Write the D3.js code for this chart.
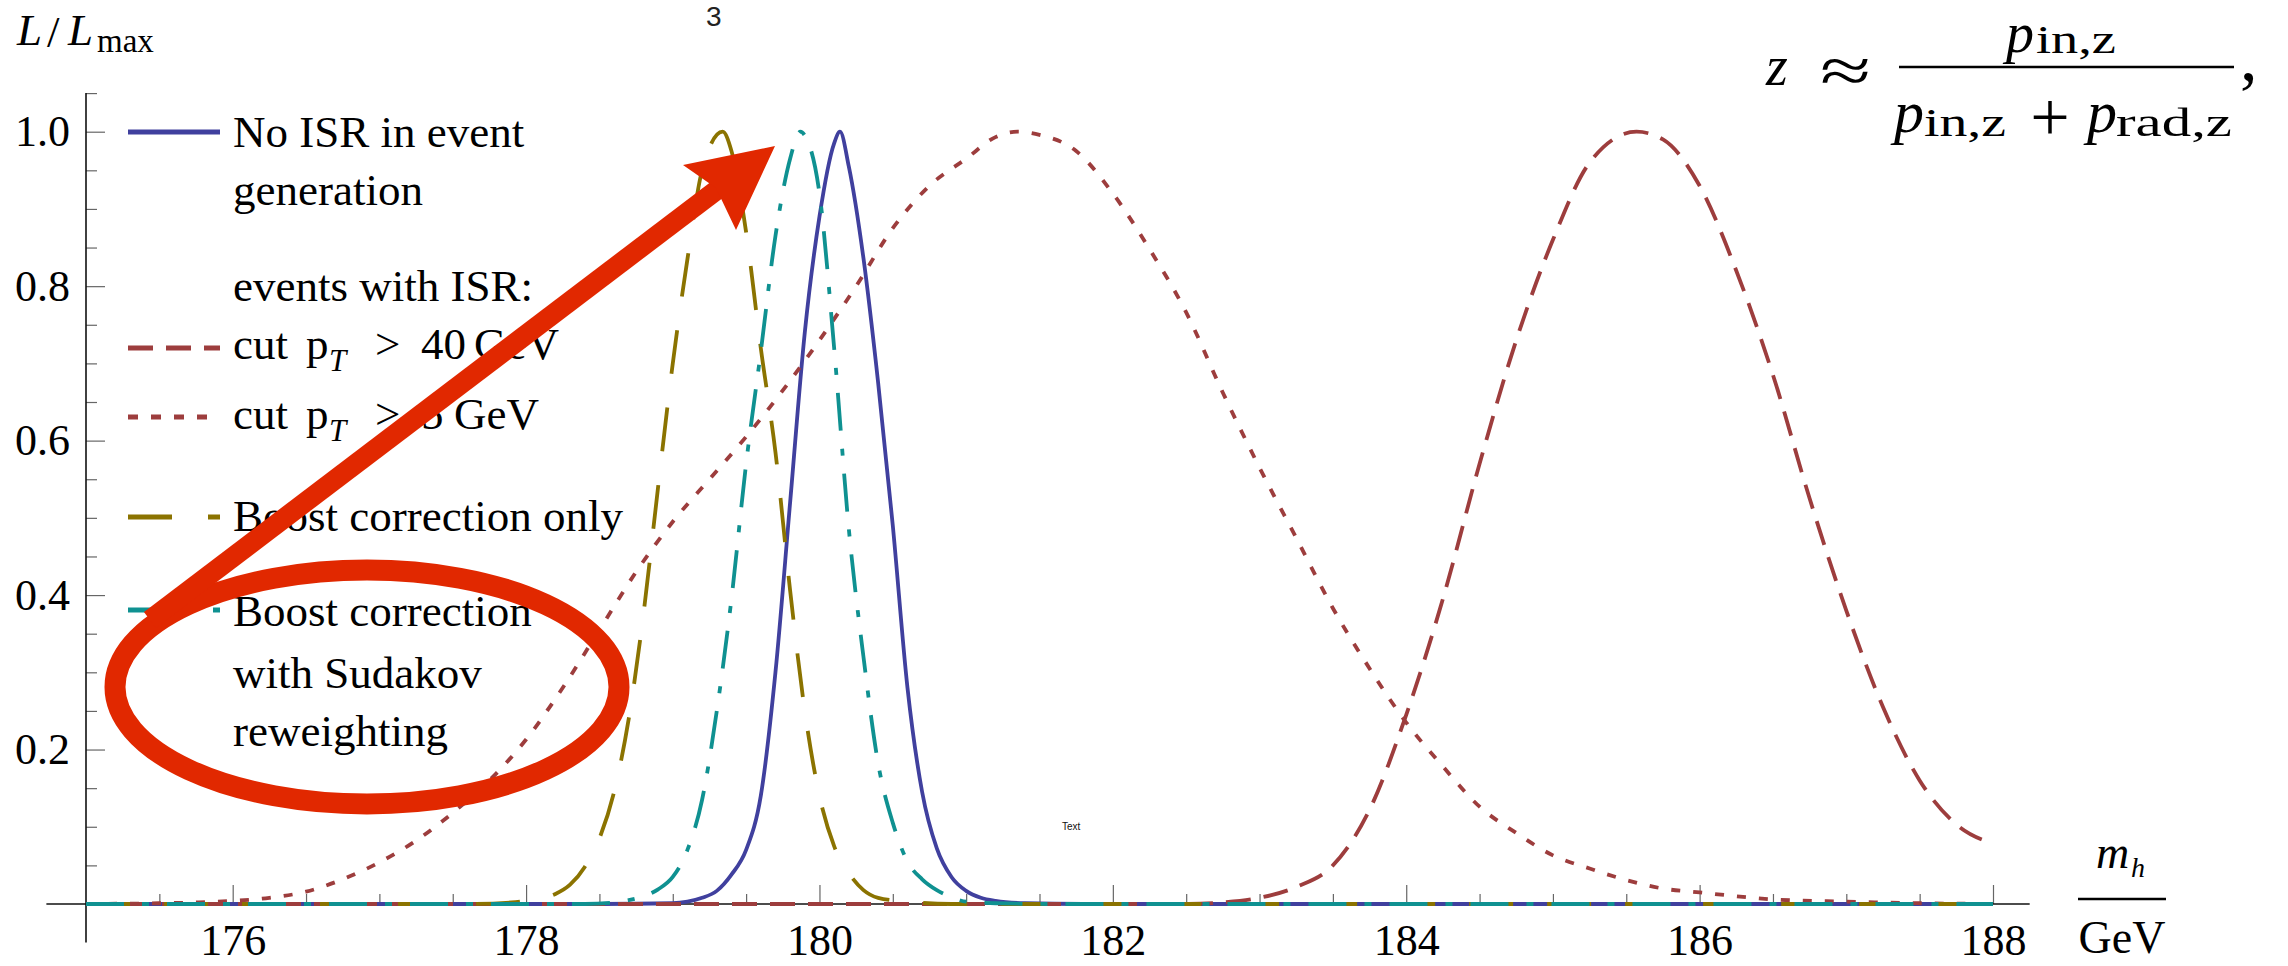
<!DOCTYPE html>
<html><head><meta charset="utf-8">
<script src="https://cdn.jsdelivr.net/npm/d3@7/dist/d3.min.js"></script>
<style>body{margin:0;background:#fff}</style>
</head><body>
<svg id="chart" width="2288" height="966" xmlns="http://www.w3.org/2000/svg"></svg>
<script>
// ---------- data ----------
const massNoIsr = [175, 178.5, 179.0, 179.1, 179.2, 179.3, 179.4, 179.5, 179.6, 179.7, 179.8, 179.9, 180.0, 180.1, 180.14, 180.2, 180.3, 180.4, 180.5, 180.6, 180.7, 180.8, 180.9, 181.0, 181.1, 181.2, 181.4, 181.8, 188];
const likeNoIsr = [0, 0, 0.001, 0.003, 0.008, 0.017, 0.038, 0.07, 0.14, 0.30, 0.52, 0.74, 0.89, 0.985, 1.0, 0.955, 0.836, 0.675, 0.49, 0.28, 0.145, 0.072, 0.035, 0.017, 0.008, 0.004, 0.001, 0, 0];

const massCut40 = [175, 182.5, 182.75, 183, 183.25, 183.5, 183.75, 184, 184.25, 184.5, 184.75, 185, 185.25, 185.57, 185.75, 186, 186.25, 186.5, 186.75, 187, 187.25, 187.5, 187.75, 188];
const likeCut40 = [0, 0, 0.002, 0.008, 0.022, 0.05, 0.122, 0.245, 0.395, 0.57, 0.73, 0.86, 0.96, 1.0, 0.99, 0.93, 0.82, 0.685, 0.525, 0.38, 0.255, 0.16, 0.103, 0.078];

const massCut5 = [175, 175.5, 175.75, 176, 176.25, 176.5, 176.75, 177, 177.25, 177.5, 177.75, 178, 178.25, 178.5, 178.75, 179, 179.25, 179.5, 179.75, 180, 180.25, 180.5, 180.75, 181, 181.2, 181.35, 181.5, 181.75, 182, 182.25, 182.5, 182.75, 183, 183.25, 183.5, 183.75, 184, 184.25, 184.5, 184.75, 185, 185.25, 185.5, 185.75, 186, 186.5, 187, 187.5, 188];
const likeCut5 = [0, 0.001, 0.002, 0.004, 0.008, 0.016, 0.032, 0.054, 0.082, 0.118, 0.16, 0.213, 0.28, 0.355, 0.43, 0.495, 0.55, 0.605, 0.665, 0.73, 0.80, 0.875, 0.93, 0.965, 0.993, 1.0, 0.996, 0.975, 0.92, 0.848, 0.766, 0.662, 0.565, 0.474, 0.383, 0.305, 0.235, 0.178, 0.126, 0.092, 0.063, 0.046, 0.031, 0.02, 0.015, 0.006, 0.003, 0.001, 0];

const massBoost = [175, 177.6, 177.9, 178.0, 178.1, 178.2, 178.3, 178.4, 178.5, 178.6, 178.7, 178.8, 178.9, 179.0, 179.1, 179.2, 179.34, 179.4, 179.5, 179.6, 179.7, 179.8, 179.9, 180.0, 180.1, 180.2, 180.3, 180.4, 180.6, 180.9, 188];
const likeBoost = [0, 0, 0.002, 0.004, 0.007, 0.013, 0.025, 0.048, 0.085, 0.145, 0.24, 0.375, 0.54, 0.70, 0.835, 0.95, 1.0, 0.975, 0.87, 0.72, 0.585, 0.406, 0.25, 0.14, 0.075, 0.04, 0.018, 0.008, 0.003, 0, 0];

const massSudakov = [175, 178.4, 178.6, 178.7, 178.8, 178.9, 179.0, 179.1, 179.2, 179.3, 179.4, 179.5, 179.6, 179.7, 179.8, 179.87, 179.9, 180.0, 180.1, 180.2, 180.3, 180.4, 180.5, 180.6, 180.7, 180.8, 180.9, 181.0, 181.2, 181.6, 188];
const likeSudakov = [0, 0, 0.002, 0.005, 0.01, 0.019, 0.035, 0.07, 0.135, 0.25, 0.395, 0.57, 0.715, 0.865, 0.965, 1.0, 0.995, 0.92, 0.72, 0.486, 0.32, 0.182, 0.105, 0.055, 0.032, 0.018, 0.009, 0.003, 0.001, 0, 0];

const xTickValues = [176, 178, 180, 182, 184, 186, 188];
const xTickLabels = ["176", "178", "180", "182", "184", "186", "188"];
const yTickValues = [0.2, 0.4, 0.6, 0.8, 1.0];
const yTickLabels = ["0.2", "0.4", "0.6", "0.8", "1.0"];

const legendNoIsr = ["No ISR in event", "generation"];
const legendHeader = "events with ISR:";
const legendBoost = "Boost correction only";
const legendSudakov = ["Boost correction", "with Sudakov", "reweighting"];

// ---------- setup ----------
const svg = d3.select("#chart");
svg.append("rect").attr("width", 2288).attr("height", 966).attr("fill", "#fff");

const x = d3.scaleLinear().domain([175, 188]).range([86, 1993]);
const y = d3.scaleLinear().domain([0, 1]).range([904, 131.7]);

const SERIF = "'Liberation Serif', 'Times New Roman', serif";
const SANS = "'Liberation Sans', Arial, sans-serif";

const C = {
  blue: "#40409e",
  brown: "#9d3d3d",
  olive: "#8b7300",
  teal: "#0f9191",
  red: "#e12800"
};

// ---------- axes ----------
const xMinor = d3.range(175.5, 188.01, 0.5).filter(v => !xTickValues.includes(v));
const yMinor = d3.range(0.05, 1.051, 0.05).map(v => +v.toFixed(2)).filter(v => !yTickValues.some(t => Math.abs(t - v) < 1e-6));

function styleAxis(g) {
  g.select(".domain").remove();
  g.selectAll("line").attr("stroke", "#666").attr("stroke-width", 1.2);
  g.attr("font-family", SERIF).attr("font-size", 44);
  g.selectAll("text").attr("fill", "#000");
}

svg.append("g").attr("transform", `translate(0,${y(0)})`)
  .call(d3.axisBottom(x).tickValues(xMinor).tickSize(-10).tickFormat(""))
  .call(styleAxis);
svg.append("g").attr("transform", `translate(0,${y(0)})`)
  .call(d3.axisBottom(x).tickValues(xTickValues).tickSize(-19).tickPadding(20)
    .tickFormat((d, i) => xTickLabels[i]))
  .call(styleAxis);
svg.append("g").attr("transform", `translate(${x(175)},0)`)
  .call(d3.axisLeft(y).tickValues(yMinor).tickSize(-11).tickFormat(""))
  .call(styleAxis);
svg.append("g").attr("transform", `translate(${x(175)},0)`)
  .call(d3.axisLeft(y).tickValues(yTickValues).tickSize(-19).tickPadding(16)
    .tickFormat((d, i) => yTickLabels[i]))
  .call(styleAxis);

// axis lines
svg.append("line").attr("x1", x(174.73)).attr("x2", x(188.25)).attr("y1", y(0)).attr("y2", y(0))
  .attr("stroke", "#111").attr("stroke-width", 1.6);
svg.append("line").attr("x1", x(175)).attr("x2", x(175)).attr("y1", y(-0.05)).attr("y2", y(1.05))
  .attr("stroke", "#111").attr("stroke-width", 1.6);

// ---------- curves ----------
const line = d3.line().x(d => x(d[0])).y(d => y(d[1])).curve(d3.curveMonotoneX);
const series = [
  { m: massNoIsr, v: likeNoIsr, color: C.blue, dash: null },
  { m: massCut40, v: likeCut40, color: C.brown, dash: "25,13" },
  { m: massCut5, v: likeCut5, color: C.brown, dash: "9,13" },
  { m: massBoost, v: likeBoost, color: C.olive, dash: "44,34" },
  { m: massSudakov, v: likeSudakov, color: C.teal, dash: "38,18,7,18" }
];
series.forEach(s => {
  const pts = s.m.map((mm, i) => [mm, s.v[i]]);
  svg.append("path").attr("d", line(pts)).attr("fill", "none")
    .attr("stroke", s.color).attr("stroke-width", 3.8)
    .attr("stroke-dasharray", s.dash).attr("stroke-linecap", "butt");
});

// ---------- legend ----------
const leg = svg.append("g").attr("font-family", SERIF).attr("font-size", 45).attr("fill", "#000");
function legLine(yy, color, dash) {
  leg.append("line").attr("x1", 128).attr("x2", 220).attr("y1", yy).attr("y2", yy)
    .attr("stroke", color).attr("stroke-width", 5).attr("stroke-dasharray", dash);
}
legLine(132, C.blue, null);
legLine(348, C.brown, "25,13");
legLine(417, C.brown, "10,13");
legLine(517, C.olive, "44,36");
legLine(610, C.teal, "38,20,7,20");

leg.append("text").attr("x", 233).attr("y", 147).text(legendNoIsr[0]);
leg.append("text").attr("x", 233).attr("y", 205).text(legendNoIsr[1]);
leg.append("text").attr("x", 233).attr("y", 301).text(legendHeader);
function cutLine(base, val, gevX) {
  leg.append("text").attr("x", 233).attr("y", base).text("cut");
  leg.append("text").attr("x", 306).attr("y", base).text("p");
  leg.append("text").attr("x", 329).attr("y", base + 12).attr("font-size", 31).attr("font-style", "italic").text("T");
  leg.append("text").attr("x", 375).attr("y", base).text(">");
  leg.append("text").attr("x", 421).attr("y", base).text(val);
  leg.append("text").attr("x", gevX).attr("y", base).text("GeV");
}
cutLine(359, "40", 474);
cutLine(429, "5", 454);
leg.append("text").attr("x", 233).attr("y", 531).text(legendBoost);
leg.append("text").attr("x", 233).attr("y", 626).text(legendSudakov[0]);
leg.append("text").attr("x", 233).attr("y", 688).text(legendSudakov[1]);
leg.append("text").attr("x", 233).attr("y", 746).text(legendSudakov[2]);

// ---------- axis labels ----------
const lab = svg.append("g").attr("font-family", SERIF).attr("fill", "#000");
lab.append("text").attr("x", 17).attr("y", 45).attr("font-size", 45).attr("font-style", "italic").text("L");
lab.append("text").attr("x", 47).attr("y", 47).attr("font-size", 45).text("/");
lab.append("text").attr("x", 68).attr("y", 45).attr("font-size", 45).attr("font-style", "italic").text("L");
lab.append("text").attr("x", 97).attr("y", 52).attr("font-size", 33).text("max");

lab.append("text").attr("x", 2096).attr("y", 868).attr("font-size", 46).attr("font-style", "italic").text("m");
lab.append("text").attr("x", 2131).attr("y", 877).attr("font-size", 28).attr("font-style", "italic").text("h");
lab.append("line").attr("x1", 2078).attr("x2", 2166).attr("y1", 899).attr("y2", 899).attr("stroke", "#000").attr("stroke-width", 2.5);
lab.append("text").attr("x", 2122).attr("y", 953).attr("font-size", 46).attr("text-anchor", "middle").text("GeV");

// ---------- formula ----------
const f = svg.append("g").attr("font-family", SERIF).attr("fill", "#000");
f.append("text").attr("x", 1766).attr("y", 85).attr("font-size", 56).attr("font-style", "italic").text("z");
f.append("text").attr("x", 1820).attr("y", 92).attr("font-size", 64).attr("textLength", 51)
  .attr("lengthAdjust", "spacingAndGlyphs").text("≈");
f.append("line").attr("x1", 1899).attr("x2", 2234).attr("y1", 67).attr("y2", 67).attr("stroke", "#000").attr("stroke-width", 2.6);
f.append("text").attr("x", 2006).attr("y", 52).attr("font-size", 56).attr("font-style", "italic").text("p");
f.append("text").attr("x", 2036).attr("y", 53).attr("font-size", 40).attr("textLength", 80).attr("lengthAdjust", "spacingAndGlyphs").text("in,z");
f.append("text").attr("x", 1894).attr("y", 132).attr("font-size", 60).attr("font-style", "italic").text("p");
f.append("text").attr("x", 1924).attr("y", 136).attr("font-size", 40).attr("textLength", 82).attr("lengthAdjust", "spacingAndGlyphs").text("in,z");
f.append("text").attr("x", 2050).attr("y", 141).attr("font-size", 70).attr("text-anchor", "middle").text("+");
f.append("text").attr("x", 2087).attr("y", 132).attr("font-size", 60).attr("font-style", "italic").text("p");
f.append("text").attr("x", 2116).attr("y", 136).attr("font-size", 40).attr("textLength", 116).attr("lengthAdjust", "spacingAndGlyphs").text("rad,z");
f.append("text").attr("x", 2240).attr("y", 80).attr("font-size", 70).text(",");

// stray texts
svg.append("text").attr("x", 706).attr("y", 26).attr("font-family", SANS).attr("font-size", 28).attr("fill", "#222").text("3");
svg.append("text").attr("x", 1062).attr("y", 830).attr("font-family", SANS).attr("font-size", 10).attr("fill", "#111").text("Text");

// ---------- red annotations ----------
const ann = svg.append("g");
ann.append("ellipse").attr("cx", 367).attr("cy", 687).attr("rx", 252).attr("ry", 117)
  .attr("fill", "none").attr("stroke", C.red).attr("stroke-width", 21);
ann.append("line").attr("x1", 150).attr("y1", 620).attr("x2", 722).attr("y2", 186)
  .attr("stroke", C.red).attr("stroke-width", 20);
ann.append("polygon").attr("points", "775,146 683,165 716,188 736,230").attr("fill", C.red);
</script>
</body></html>
